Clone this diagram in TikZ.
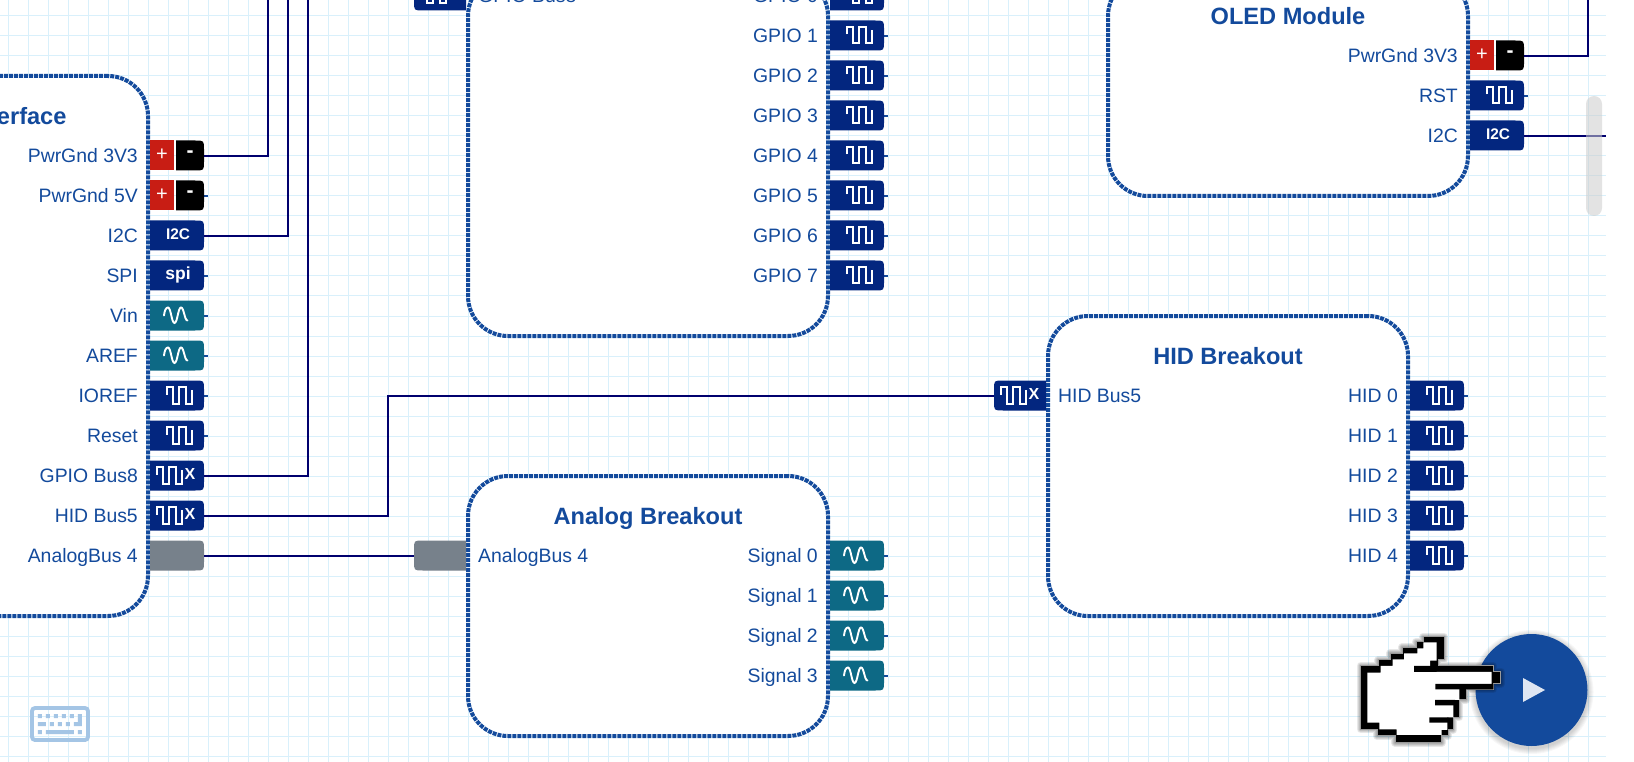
\documentclass[tikz,border=0pt]{standalone}
\usepackage{fontspec}
\setmainfont{Liberation Sans}
\definecolor{gridc}{HTML}{D9F0FB}
\definecolor{mainblue}{HTML}{134A9C}
\definecolor{portnavy}{HTML}{03267F}
\definecolor{portteal}{HTML}{0D6985}
\definecolor{portgrey}{HTML}{77818B}
\definecolor{pwrred}{HTML}{C81D14}
\definecolor{wirec}{HTML}{00006E}
\definecolor{keyc}{HTML}{A4C5E5}
\definecolor{triw}{HTML}{DFE6F2}
\tikzset{
  blockbox/.style={draw=mainblue,fill=white,line width=4pt,dash pattern=on 4pt off 1pt,rounded corners=40pt,inner sep=0pt,outer sep=0pt,minimum width=360pt},
  lbl/.style={text=mainblue,inner sep=0pt,font=\fontsize{19.4}{22}\selectfont},
  ttl/.style={text=mainblue,inner sep=0pt,font=\fontsize{23.6}{26}\selectfont\bfseries},
  wirel/.style={draw=wirec,line width=1.5pt},
  stubl/.style={draw=mainblue,line width=1.5pt},
  iconl/.style={draw=white,line width=2pt,line join=miter},
  sinel/.style={draw=white,line width=1.9pt,line cap=round},
  ptxt/.style={text=white,inner sep=0pt,font=\fontsize{15.4}{17}\selectfont\bfseries},
}
\newcommand{\shapeR}[1]{\fill[#1] (0,-15) -- (45,-15) .. controls (54,-15) and (54,-15) .. (54,-6) -- (54,6) .. controls (54,15) and (54,15) .. (45,15) -- (0,15) -- cycle;}
\newcommand{\shapeL}[1]{\fill[#1] (52,-15) -- (9,-15) .. controls (0,-15) and (0,-15) .. (0,-6) -- (0,6) .. controls (0,15) and (0,15) .. (9,15) -- (52,15) -- cycle;}
\newcommand{\sqw}[1]{\draw[iconl,xshift=#1pt] (16.7,-1) -- (16.7,-8.5) -- (23.3,-8.5) -- (23.3,8) -- (29.3,8) -- (29.3,-8.5) -- (35.7,-8.5) -- (35.7,8) -- (41.7,8) -- (41.7,-5.3);}
\newcommand{\siw}{\draw[sinel] (14,0) .. controls (14.5,-5) and (16,-8) .. (18,-8) .. controls (21,-8) and (21.5,7.5) .. (24.5,7.5) .. controls (27.5,7.5) and (28,-8) .. (31,-8) .. controls (34,-8) and (34.5,5) .. (37.5,5);}
\newcommand{\iconSQ}[1]{\csname shape#1\endcsname{portnavy}\sqw{0}}
\newcommand{\iconSI}[1]{\csname shape#1\endcsname{portteal}\siw}
\newcommand{\iconBUS}[1]{\csname shape#1\endcsname{portnavy}\sqw{-10}\node[ptxt,font=\fontsize{16}{18}\selectfont\bfseries] at (40,-1.5) {X};}
\newcommand{\iconGR}[1]{\csname shape#1\endcsname{portgrey}}
\newcommand{\iconIIC}[1]{\csname shape#1\endcsname{portnavy}\node[ptxt] at (28,-1) {I2C};}
\newcommand{\iconSPI}[1]{\csname shape#1\endcsname{portnavy}\node[ptxt,font=\fontsize{17.5}{19}\selectfont\bfseries] at (28,-0.5) {spi};}
\newcommand{\iconPG}[1]{\fill[black] (26,-15) -- (45,-15) .. controls (54,-15) and (54,-15) .. (54,-6) -- (54,6) .. controls (54,15) and (54,15) .. (45,15) -- (26,15) -- cycle;
  \fill[pwrred] (0,-15) rectangle (24,15);
  \node[ptxt,font=\fontsize{20}{22}\selectfont] at (12,-0.5) {+};
  \node[ptxt,font=\fontsize{21}{23}\selectfont\bfseries] at (40,-1) {-};}
\newcommand{\outport}[5]{%
  \node[lbl,anchor=base east] (#1-label) at ({#2-10},{#3+6.3}) {#4};
  \draw[stubl] ({#2+56},{#3}) -- ({#2+60},{#3});
  \coordinate (#1) at ({#2+56},{#3});
  \begin{scope}[shift={({#2+2},{#3-0.5})}]\csname icon#5\endcsname{R}\end{scope}}
\newcommand{\inport}[5]{%
  \node[lbl,anchor=base west] (#1-label) at ({#2+10},{#3+6.3}) {#4};
  \coordinate (#1) at ({#2-54},{#3});
  \begin{scope}[shift={({#2-54},{#3-0.5})}]\csname icon#5\endcsname{L}\end{scope}}
\newcommand{\handouter}{(62,197) -- (115,197) -- (115,180) -- (150,180) -- (150,160) -- (187,160) -- (187,142) -- (228,142) -- (228,125) -- (250,125) -- (250,110) -- (312,110) -- (312,178) -- (295,178) -- (295,198) -- (460,198) -- (460,215) -- (482,215) -- (482,252) -- (460,252) -- (460,268) -- (378,268) -- (378,300) -- (358,300) -- (358,352) -- (340,352) -- (340,390) -- (325,390) -- (325,408) -- (305,408) -- (305,428) -- (165,428) -- (165,408) -- (112,408) -- (112,388) -- (62,388) -- cycle}
\begin{document}
\begin{tikzpicture}[x=1pt,y=-1pt]
\useasboundingbox (0,0) rectangle (1634,762);
\clip (0,0) rectangle (1634,762);
\fill[white] (0,0) rectangle (1634,762);
% grid
\foreach \gx in {0,...,79} {\draw[gridc,line width=1pt] ({8.3+20*\gx},0) -- ({8.3+20*\gx},762);}
\foreach \gy in {0,...,37} {\draw[gridc,line width=1pt] (0,{16+20*\gy}) -- (1606,{16+20*\gy});}
% blocks
\node[blockbox,minimum height=540pt] (iface) at (-212+180,346) {};
\node[blockbox,minimum height=360pt] (gpio) at (648,156) {};
\node[blockbox,minimum height=260pt] (analog) at (648,606) {};
\node[blockbox,minimum height=300pt] (hid) at (1228,466) {};
\node[blockbox,minimum height=220pt] (oled) at (1288,86) {};
% titles
\node[ttl,anchor=base east] (ifacetitle) at (66.7,125) {erface};
\node[ttl,anchor=base] (analogtitle) at (648,524) {Analog Breakout};
\node[ttl,anchor=base] (hidtitle) at (1228,364) {HID Breakout};
\node[ttl,anchor=base] (oledtitle) at (1288,25) {OLED Module};
% interface ports
\outport{ipa}{148}{156}{PwrGnd 3V3}{PG}
\outport{ipb}{148}{196}{PwrGnd 5V}{PG}
\outport{iic}{148}{236}{I2C}{IIC}
\outport{isp}{148}{276}{SPI}{SPI}
\outport{ivi}{148}{316}{Vin}{SI}
\outport{iar}{148}{356}{AREF}{SI}
\outport{iio}{148}{396}{IOREF}{SQ}
\outport{irs}{148}{436}{Reset}{SQ}
\outport{igb}{148}{476}{GPIO Bus8}{BUS}
\outport{ihb}{148}{516}{HID Bus5}{BUS}
\outport{ian}{148}{556}{AnalogBus 4}{GR}
% gpio ports
\inport{gin}{468}{-4}{GPIO Bus8}{BUS}
\outport{g0}{828}{-4}{GPIO 0}{SQ}
\outport{g1}{828}{36}{GPIO 1}{SQ}
\outport{g2}{828}{76}{GPIO 2}{SQ}
\outport{g3}{828}{116}{GPIO 3}{SQ}
\outport{g4}{828}{156}{GPIO 4}{SQ}
\outport{g5}{828}{196}{GPIO 5}{SQ}
\outport{g6}{828}{236}{GPIO 6}{SQ}
\outport{g7}{828}{276}{GPIO 7}{SQ}
% analog ports
\inport{ain}{468}{556}{AnalogBus 4}{GR}
\outport{s0}{828}{556}{Signal 0}{SI}
\outport{s1}{828}{596}{Signal 1}{SI}
\outport{s2}{828}{636}{Signal 2}{SI}
\outport{s3}{828}{676}{Signal 3}{SI}
% hid ports
\inport{hin}{1048}{396}{HID Bus5}{BUS}
\outport{h0}{1408}{396}{HID 0}{SQ}
\outport{h1}{1408}{436}{HID 1}{SQ}
\outport{h2}{1408}{476}{HID 2}{SQ}
\outport{h3}{1408}{516}{HID 3}{SQ}
\outport{h4}{1408}{556}{HID 4}{SQ}
% oled ports
\outport{opw}{1468}{56}{PwrGnd 3V3}{PG}
\outport{ors}{1468}{96}{RST}{SQ}
\outport{oic}{1468}{136}{I2C}{IIC}
% wires
\coordinate (topa) at (268,-2);
\coordinate (topb) at (288,-2);
\coordinate (topc) at (308,-2);
\coordinate (topd) at (1588,-2);
\coordinate (exit) at (1606,136);
\coordinate (hidbend) at (388,516);
\draw[wirel] (ipa) -| (topa);
\draw[wirel] (iic) -| (topb);
\draw[wirel] (igb) -| (topc);
\draw[wirel] (ihb) -- (hidbend) |- (hin);
\draw[wirel] (ian) -- (ain);
\draw[wirel] (opw) -| (topd);
\draw[wirel] (oic) -- (exit);
% keyboard
\draw[keyc,line width=3.8pt,rounded corners=3pt] (32,708) rectangle (88,740);
\begin{scope}[shift={(20,700)},x=.3333pt,y=-.3333pt]
\fill[keyc] (54,42) rectangle (66,54) (78,42) rectangle (90,54) (102,42) rectangle (114,54) (126,42) rectangle (138,54) (150,42) rectangle (162,54);
\fill[keyc] (174,42) -- (186,42) -- (186,78) -- (162,78) -- (162,66) -- (174,66) -- cycle;
\fill[keyc] (54,66) rectangle (78,78) (90,66) rectangle (102,78) (114,66) rectangle (126,78) (138,66) rectangle (150,78);
\fill[keyc] (54,90) rectangle (66,102) (78,90) rectangle (162,102) (174,90) rectangle (186,102);
\end{scope}
% scrollbar
\fill[black!20,opacity=.55,rounded corners=8pt] (1586,96) rectangle (1602,216);
% play button
\foreach \sr in {62,61,60,59,58,57} {\fill[black,opacity=.03] (1531.5,692) circle[radius=\sr];}
\fill[mainblue] (1531.5,690) circle[radius=56];
\fill[triw] (1523,678) -- (1545,690) -- (1523,702) -- cycle;
% hand
\begin{scope}[shift={(1340,600)},x=.3333pt,y=-.3333pt]
\foreach \sw in {24,18,12,6} {\draw[black,opacity=.09,line width=\sw*.3333pt,line join=round] \handouter;}
\draw[fill=black,draw=white!60!black,line width=1pt] \handouter;
\fill[white] (82,218) -- (122,218) -- (122,198) -- (158,198) -- (158,178) -- (192,178) -- (192,160) -- (232,160) -- (232,145) -- (250,145) -- (250,127) -- (290,127) -- (290,182) -- (270,182) -- (270,216) -- (455,216) -- (455,252) -- (358,252) -- (358,300) -- (340,300) -- (340,352) -- (322,352) -- (322,390) -- (305,390) -- (305,405) -- (170,405) -- (170,388) -- (118,388) -- (118,368) -- (82,368) -- cycle;
\fill[black] (222,198) rectangle (290,216) (286,252) rectangle (460,268) (285,300) rectangle (345,316) (268,352) rectangle (325,368);
\end{scope}
\end{tikzpicture}
\end{document}
